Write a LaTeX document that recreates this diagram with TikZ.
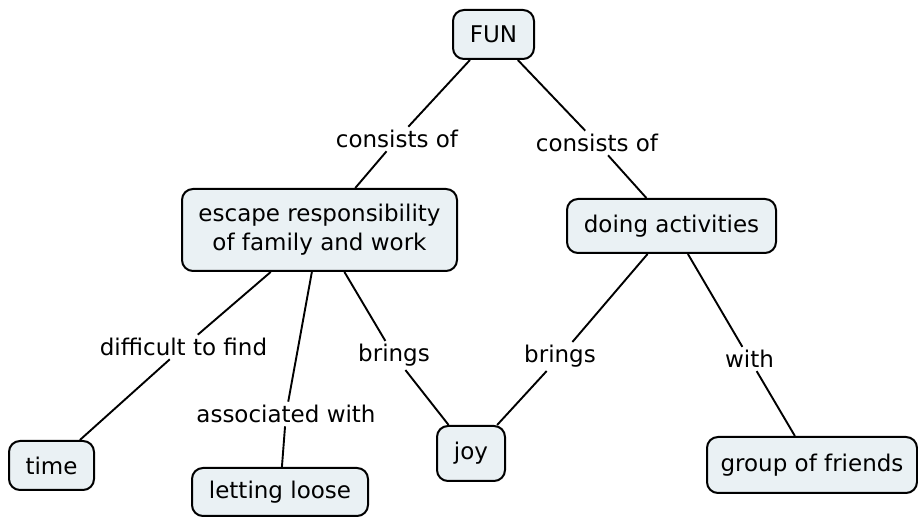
\documentclass[tikz,border=0pt]{standalone}
\usepackage{fontspec}
\setmainfont{DejaVu Sans}
\definecolor{conceptfill}{RGB}{234,241,244}
\begin{document}
\begin{tikzpicture}[x=0.5pt,y=-0.5pt,
  concept/.style={draw=black, line width=1pt, fill=conceptfill,
    rounded corners=5.5pt, inner sep=0pt, align=center,
    font=\fontsize{11.5}{14.5}\selectfont},
  linkword/.style={inner sep=1.5pt, font=\fontsize{11.5}{14.5}\selectfont},
  link/.style={line width=0.95pt, draw=black}]
\useasboundingbox (0,0) rectangle (918,517);

% concepts
\node[concept, minimum width=40.5pt, minimum height=24.5pt] (fun) at (493.5,34.5) {FUN};
\node[concept, minimum width=137.5pt, minimum height=41pt] (esc) at (319.5,230)
  {escape responsibility\\of family and work};
\node[concept, minimum width=104.5pt, minimum height=27pt] (act) at (671.5,226) {doing activities};
\node[concept, minimum width=42.5pt, minimum height=24.5pt] (time) at (51.5,465.5) {time};
\node[concept, minimum width=88pt, minimum height=24pt] (loose) at (280,492) {letting loose};
\node[concept, minimum width=34pt, minimum height=27.5pt] (joy) at (471,453.5) {joy};
\node[concept, minimum width=105pt, minimum height=28pt] (friends) at (812,465) {group of friends};

% linking phrases
\node[linkword] (l1) at (397,139) {consists of};
\node[linkword] (l2) at (597,143) {consists of};
\node[linkword] (l3) at (183.5,347) {difficult to find};
\node[linkword] (l4) at (286,414) {associated with};
\node[linkword] (l5) at (394,355.5) {brings};
\node[linkword] (l6) at (560,356.5) {brings};
\node[linkword] (l7) at (749.5,359) {with};

% connections
\draw[link] (fun) -- (l1) -- (esc);
\draw[link] (fun) -- (l2) -- (act);
\draw[link] (esc) -- (l3) -- (time);
\draw[link] (esc) -- (l4) -- (loose);
\draw[link] (esc) -- (l5) -- (joy);
\draw[link] (act) -- (l6) -- (joy);
\draw[link] (act) -- (l7) -- (friends);
\end{tikzpicture}
\end{document}
